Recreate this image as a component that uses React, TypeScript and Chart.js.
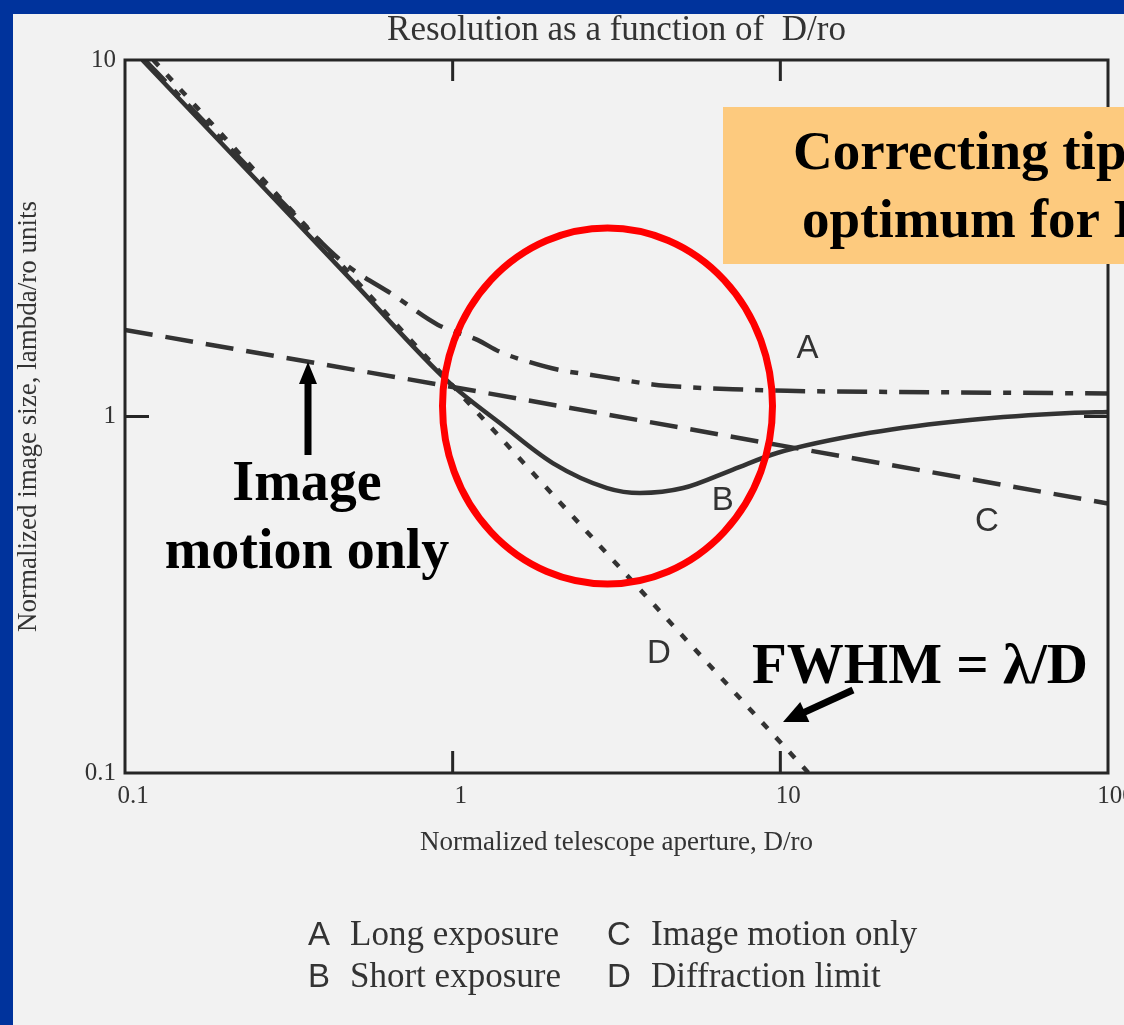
import React, { useEffect, useRef } from 'react';
import { Chart, registerables } from 'chart.js';

Chart.register(...registerables);

// ---- data ----
const X_TICKS = [0.1, 1, 10, 100];
const Y_TICKS = [0.1, 1, 10];

// A: long exposure (dash-dot)
const LONG_X = [0.115, 0.2, 0.3, 0.46, 0.67, 0.9, 1.19, 1.39, 1.72, 2.12, 2.62, 3.24, 4.08, 5.05, 7.7, 10.5, 30, 100];
const LONG_Y = [10, 5.9, 4.02, 2.72, 2.17, 1.81, 1.64, 1.52, 1.42, 1.35, 1.31, 1.27, 1.23, 1.21, 1.19, 1.18, 1.17, 1.16];

// B: short exposure (solid)
const SHORT_X = [0.113, 0.3, 0.5, 0.98, 1.39, 2.02, 2.96, 3.73, 5.05, 7.17, 9.77, 18.8, 37.9, 76.5, 100];
const SHORT_Y = [10, 3.89, 2.37, 1.24, 0.96, 0.74, 0.63, 0.61, 0.63, 0.71, 0.79, 0.9, 0.978, 1.023, 1.03];

// C: image motion only (dashed)
const MOTION_X = [0.1, 1, 10, 100];
const MOTION_Y = [1.75, 1.21, 0.83, 0.57];

// D: diffraction limit (dotted)
const DIFF_X = [0.122, 1, 10, 12.2];
const DIFF_Y = [10, 1.22, 0.122, 0.1];

// curve letter labels, placed in data coordinates (left, baseline)
const CURVE_LABELS = ['A', 'B', 'C', 'D'];
const CURVE_LABEL_X = [11.2, 6.18, 39.3, 3.92];
const CURVE_LABEL_Y = [1.46, 0.547, 0.477, 0.2035];

const LEGEND_LETTERS = ['A', 'B', 'C', 'D'];
const LEGEND_TEXTS = ['Long exposure', 'Short exposure', 'Image motion only', 'Diffraction limit'];

const LINE = '#333333';
const SERIF = '"Liberation Serif", "Times New Roman", serif';
const SANS = '"Liberation Sans", Arial, sans-serif';

function pts(xs: number[], ys: number[]) {
  return xs.map((x, i) => ({ x, y: ys[i] }));
}

function drawArrow(ctx: CanvasRenderingContext2D, x1: number, y1: number, x2: number, y2: number,
  shaft: number, headLen: number, headW: number) {
  const dx = x2 - x1, dy = y2 - y1;
  const len = Math.hypot(dx, dy);
  const ux = dx / len, uy = dy / len;
  const bx = x2 - ux * headLen, by = y2 - uy * headLen;
  ctx.beginPath();
  ctx.lineWidth = shaft;
  ctx.lineCap = 'butt';
  ctx.moveTo(x1, y1);
  ctx.lineTo(bx + ux * 2, by + uy * 2);
  ctx.stroke();
  ctx.beginPath();
  ctx.moveTo(x2, y2);
  ctx.lineTo(bx - uy * headW / 2, by + ux * headW / 2);
  ctx.lineTo(bx + uy * headW / 2, by - ux * headW / 2);
  ctx.closePath();
  ctx.fill();
}

const overlay = {
  id: 'slideOverlay',
  beforeDraw(chart: any) {
    const { ctx, width, height } = chart;
    ctx.save();
    ctx.fillStyle = '#F2F2F2';
    ctx.fillRect(0, 0, width, height);
    ctx.fillStyle = '#00339C';
    ctx.fillRect(0, 0, width, 14);
    ctx.fillRect(0, 0, 13, height);
    ctx.restore();
  },
  afterDraw(chart: any) {
    const { ctx, chartArea: ca, scales } = chart;
    const xs = scales.x, ys = scales.y;
    ctx.save();
    // frame
    ctx.strokeStyle = '#262626';
    ctx.lineWidth = 3;
    ctx.strokeRect(ca.left, ca.top, ca.right - ca.left, ca.bottom - ca.top);
    // inward ticks
    ctx.lineWidth = 3;
    [1, 10].forEach((v) => {
      const px = xs.getPixelForValue(v);
      ctx.beginPath();
      ctx.moveTo(px, ca.top); ctx.lineTo(px, ca.top + 21);
      ctx.moveTo(px, ca.bottom); ctx.lineTo(px, ca.bottom - 22);
      ctx.stroke();
    });
    [1].forEach((v) => {
      const py = ys.getPixelForValue(v);
      ctx.beginPath();
      ctx.moveTo(ca.left, py); ctx.lineTo(ca.left + 24, py);
      ctx.moveTo(ca.right, py); ctx.lineTo(ca.right - 24, py);
      ctx.stroke();
    });
    // curve letters
    ctx.fillStyle = '#333';
    ctx.font = `33px ${SANS}`;
    ctx.textAlign = 'left';
    ctx.textBaseline = 'alphabetic';
    CURVE_LABELS.forEach((t, i) => {
      ctx.fillText(t, xs.getPixelForValue(CURVE_LABEL_X[i]), ys.getPixelForValue(CURVE_LABEL_Y[i]));
    });

    // orange callout
    ctx.fillStyle = '#FDCA7E';
    ctx.fillRect(723, 107, 420, 157);
    ctx.fillStyle = '#000';
    ctx.font = `bold 55px ${SERIF}`;
    ctx.fillText('Correcting tip-tilt has', 793, 169);
    ctx.fillText('optimum for D/r0 ~ 3', 802, 237);

    // red circle
    ctx.strokeStyle = '#FF0000';
    ctx.lineWidth = 7;
    ctx.beginPath();
    ctx.ellipse(607.5, 406, 165, 178, 0, 0, Math.PI * 2);
    ctx.stroke();

    // annotations
    ctx.fillStyle = '#000';
    ctx.strokeStyle = '#000';
    drawArrow(ctx, 308, 455, 308, 362, 7, 22, 18);
    drawArrow(ctx, 853, 690, 783, 722, 7, 24, 22);

    ctx.font = `bold 56px ${SERIF}`;
    ctx.textAlign = 'center';
    ctx.fillText('Image', 307, 500);
    ctx.fillText('motion only', 307, 568);
    ctx.textAlign = 'left';
    ctx.font = `bold 57px ${SERIF}`;
    ctx.fillText('FWHM = \u03BB/D', 752, 683);

    // bottom legend
    const colX = [308, 607];
    const textX = [350, 651];
    const rowY = [945, 987];
    LEGEND_LETTERS.forEach((letter, i) => {
      const col = i < 2 ? 0 : 1;
      const row = i % 2;
      ctx.fillStyle = '#333';
      ctx.font = `33px ${SANS}`;
      ctx.fillText(letter, colX[col], rowY[row]);
      ctx.font = `35px ${SERIF}`;
      ctx.fillText(LEGEND_TEXTS[i], textX[col], rowY[row]);
    });
    ctx.restore();
  },
};

export default function App() {
  const ref = useRef<HTMLCanvasElement>(null);
  useEffect(() => {
    const axisFont = { family: SERIF, size: 25 };
    const chart = new Chart(ref.current as HTMLCanvasElement, {
      type: 'line',
      data: {
        datasets: [
          {
            label: 'A Long exposure', data: pts(LONG_X, LONG_Y), borderColor: LINE, borderWidth: 4.5,
            borderDash: [30, 12, 8, 12], pointRadius: 0, fill: false, cubicInterpolationMode: 'monotone',
          },
          {
            label: 'B Short exposure', data: pts(SHORT_X, SHORT_Y), borderColor: LINE, borderWidth: 4.5,
            pointRadius: 0, fill: false, cubicInterpolationMode: 'monotone',
          },
          {
            label: 'C Image motion only', data: pts(MOTION_X, MOTION_Y), borderColor: LINE, borderWidth: 4.5,
            borderDash: [28, 13], pointRadius: 0, fill: false,
          },
          {
            label: 'D Diffraction limit', data: pts(DIFF_X, DIFF_Y), borderColor: LINE, borderWidth: 4.5,
            borderDash: [8, 12], pointRadius: 0, fill: false,
          },
        ] as any,
      },
      options: {
        responsive: false,
        animation: false,
        devicePixelRatio: 1,
        layout: { padding: { left: 0, right: 16, top: 0, bottom: 0 } },
        plugins: {
          legend: { display: false },
          tooltip: { enabled: false },
          title: {
            display: true,
            fullSize: false,
            text: 'Resolution as a function of  D/ro',
            color: '#333',
            font: { family: SERIF, size: 35, weight: 'normal' },
            padding: { top: 10, bottom: 8 },
          },
        },
        scales: {
          x: {
            type: 'logarithmic',
            min: 0.1,
            max: 100,
            grid: { display: false, drawTicks: false },
            border: { display: false },
            afterBuildTicks: (s: any) => { s.ticks = X_TICKS.map((v) => ({ value: v })); },
            afterFit: (s: any) => { s.height = 252; s.paddingLeft = 0; s.paddingRight = 0; },
            ticks: {
              autoSkip: false, maxRotation: 0, padding: 8, labelOffset: 8,
              color: '#333', font: axisFont, callback: (v: any) => String(v),
            },
            title: {
              display: true, text: 'Normalized telescope aperture, D/ro', color: '#333',
              font: { family: SERIF, size: 27 }, padding: { top: 0, bottom: 166 },
            },
          },
          y: {
            type: 'logarithmic',
            min: 0.1,
            max: 10,
            grid: { display: false, drawTicks: false },
            border: { display: false },
            afterBuildTicks: (s: any) => { s.ticks = Y_TICKS.map((v) => ({ value: v })); },
            afterFit: (s: any) => { s.width = 125; s.paddingTop = 0; s.paddingBottom = 0; },
            ticks: {
              autoSkip: false, padding: 9, color: '#333', font: axisFont, callback: (v: any) => String(v),
            },
            title: {
              display: true, text: 'Normalized image size, lambda/ro units', color: '#333',
              font: { family: SERIF, size: 27 }, padding: { top: 13, bottom: 0 },
            },
          },
        },
      } as any,
      plugins: [overlay],
    });
    return () => chart.destroy();
  }, []);
  return (
    <div style={{ position: 'absolute', left: 0, top: 0, width: 1124, height: 1025, overflow: 'hidden' }}>
      <canvas ref={ref} width={1124} height={1025} style={{ display: 'block' }} />
    </div>
  );
}
